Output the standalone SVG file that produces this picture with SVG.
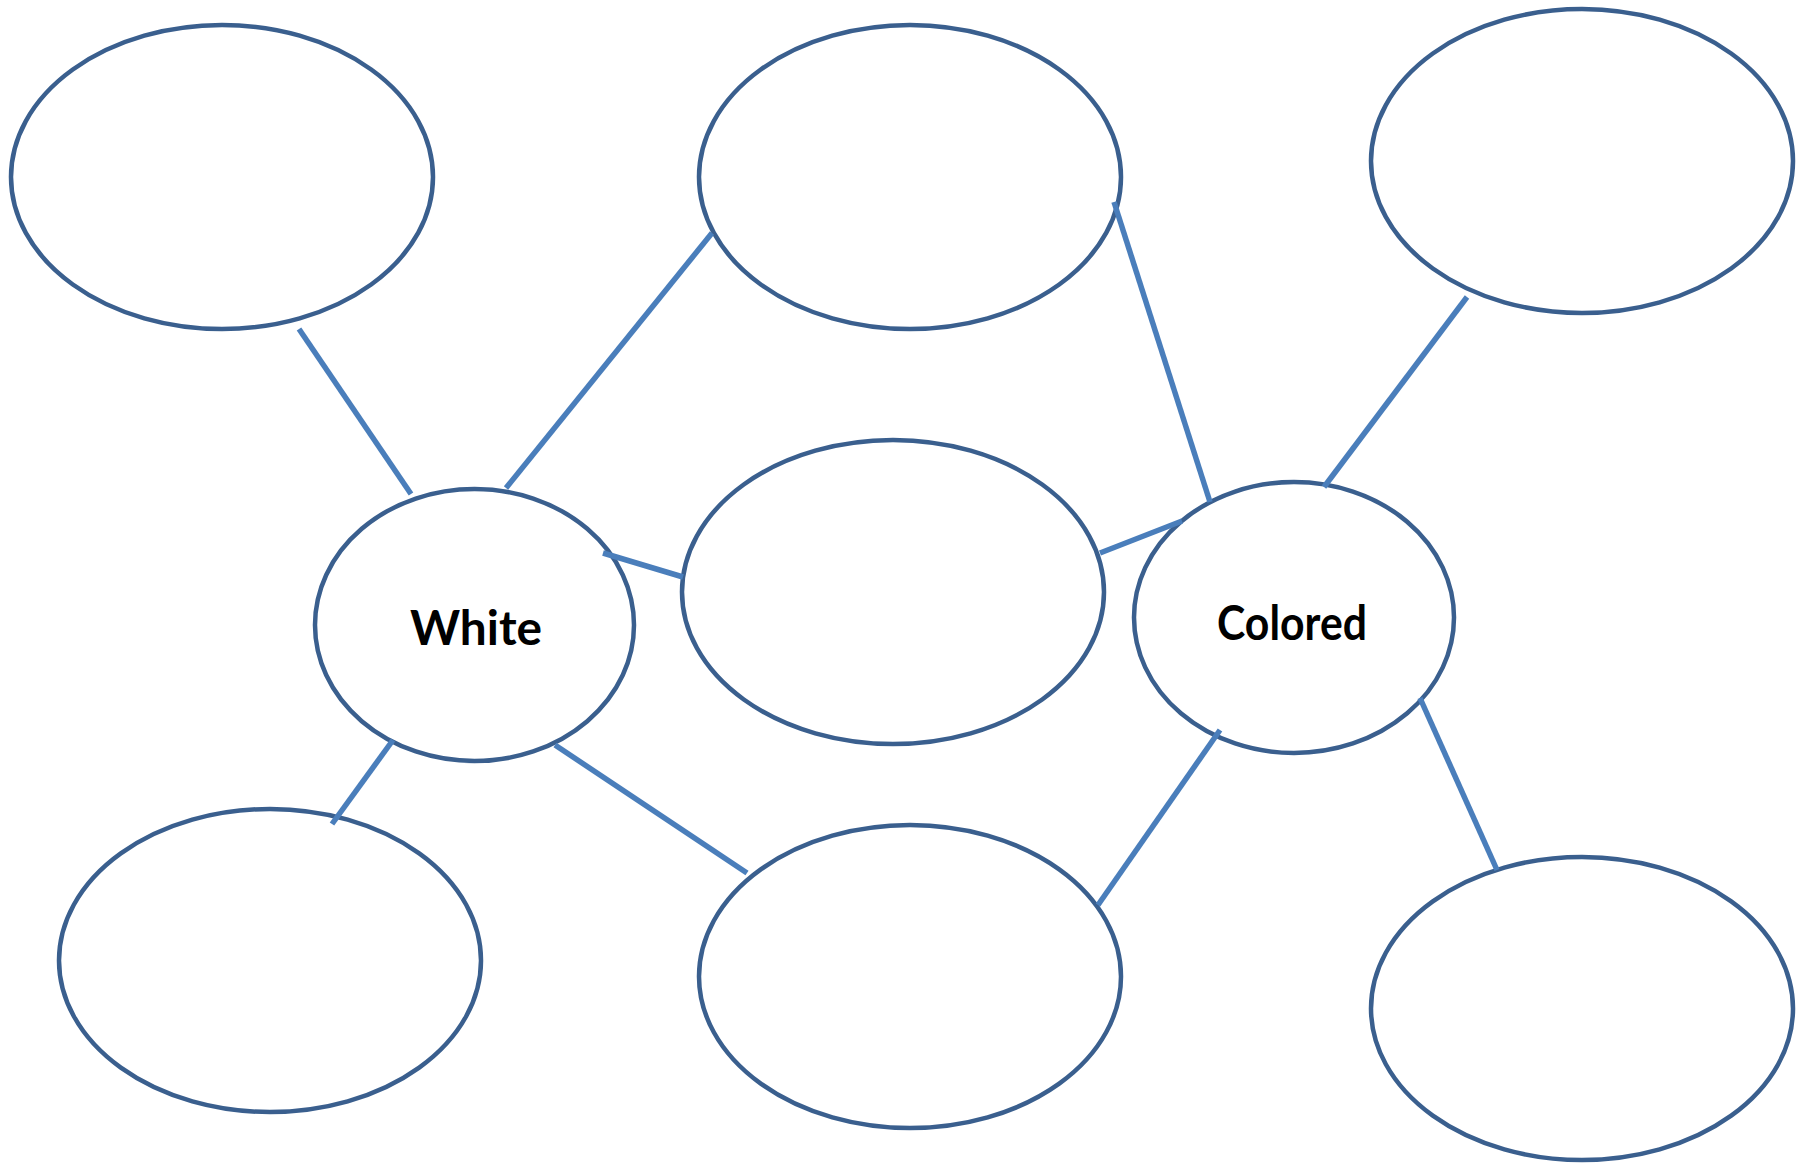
<svg xmlns="http://www.w3.org/2000/svg" width="1810" height="1163" viewBox="0 0 1810 1163">
  <style>
    .node { fill: #ffffff; stroke: #3A5F8E; stroke-width: 4.5; }
    .link { stroke: #4A7EBB; stroke-width: 5.5; fill: none; }
    .label { font-family: Lato, "Open Sans", sans-serif; font-weight: bold; font-size: 47px; fill: #000000; }
  </style>
  <rect width="1810" height="1163" fill="#ffffff"/>

  <g id="nodes">
    <g id="node-top-left"><ellipse class="node" cx="222" cy="177" rx="211" ry="152"/></g>
    <g id="node-top-middle"><ellipse class="node" cx="910" cy="177" rx="211" ry="152"/></g>
    <g id="node-top-right"><ellipse class="node" cx="1582" cy="161" rx="211" ry="152"/></g>
    <g id="node-white">
      <ellipse class="node" cx="474.5" cy="625" rx="159.5" ry="136"/>
      <text class="label" x="410" y="645" textLength="132" lengthAdjust="spacingAndGlyphs">White</text>
    </g>
    <g id="node-middle"><ellipse class="node" cx="893" cy="592" rx="211" ry="152"/></g>
    <g id="node-colored">
      <ellipse class="node" cx="1294" cy="617.5" rx="160" ry="135.5"/>
      <text class="label" x="1217" y="640" textLength="150" lengthAdjust="spacingAndGlyphs">Colored</text>
    </g>
    <g id="node-bottom-left"><ellipse class="node" cx="270" cy="960.5" rx="211" ry="151.5"/></g>
    <g id="node-bottom-middle"><ellipse class="node" cx="910" cy="976.5" rx="211" ry="151.5"/></g>
    <g id="node-bottom-right"><ellipse class="node" cx="1582" cy="1008.5" rx="211" ry="151.5"/></g>
  </g>

  <g id="connectors">
    <line class="link" x1="299" y1="329" x2="411" y2="494"/>
    <line class="link" x1="506" y1="488" x2="712" y2="233"/>
    <line class="link" x1="603" y1="553" x2="683" y2="577"/>
    <line class="link" x1="393" y1="740" x2="332" y2="824"/>
    <line class="link" x1="555" y1="745" x2="747" y2="873"/>
    <line class="link" x1="1114" y1="202" x2="1210" y2="502"/>
    <line class="link" x1="1100" y1="553" x2="1182" y2="521"/>
    <line class="link" x1="1467" y1="297" x2="1324" y2="487"/>
    <line class="link" x1="1220" y1="730" x2="1098" y2="905"/>
    <line class="link" x1="1420" y1="698" x2="1497" y2="870"/>
  </g>
</svg>
